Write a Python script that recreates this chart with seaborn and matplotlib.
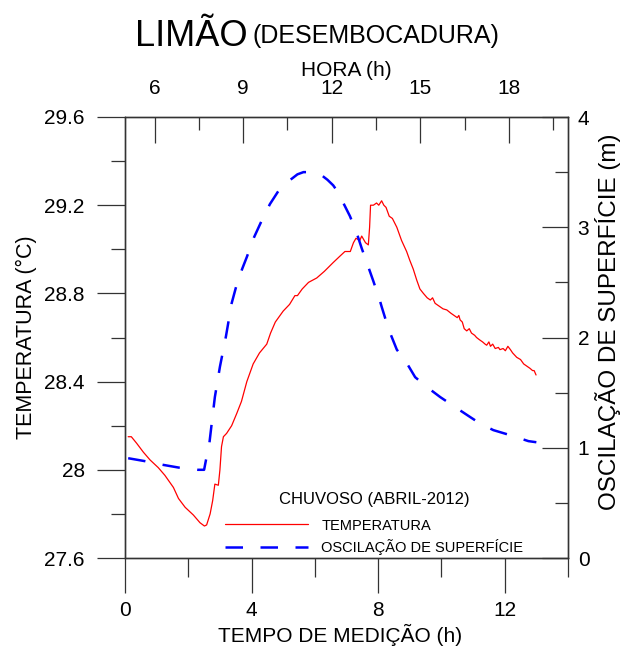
import matplotlib
matplotlib.use("Agg")
import matplotlib.pyplot as plt
import seaborn as sns
from matplotlib.ticker import MultipleLocator, FixedLocator, FormatStrFormatter

# temperatura (tempo de medição em h, °C)
tempo_temp = [0.10, 0.20, 0.37, 0.58, 0.79, 1.05, 1.26, 1.53, 1.69, 1.90,
              2.16, 2.37, 2.51, 2.58, 2.69, 2.77, 2.84, 2.95, 3.00, 3.05,
              3.11, 3.21, 3.37, 3.53, 3.68, 3.85, 4.05, 4.25, 4.48, 4.60,
              4.75, 5.00, 5.20, 5.37, 5.45, 5.60, 5.80, 6.06, 6.30, 6.58,
              6.80, 6.95, 7.12, 7.22, 7.30, 7.42, 7.48, 7.60, 7.69, 7.73,
              7.76, 7.85, 7.95, 8.02, 8.11, 8.18, 8.25, 8.35, 8.45, 8.59,
              8.74, 8.90, 9.00, 9.11, 9.22, 9.32, 9.43, 9.55, 9.65, 9.72,
              9.80, 9.95, 10.05, 10.17, 10.30, 10.40, 10.50, 10.55, 10.59, 10.66,
              10.72, 10.80, 10.88, 10.95, 11.05, 11.11, 11.20, 11.30, 11.38, 11.43,
              11.50, 11.55, 11.62, 11.70, 11.80, 11.85, 11.95, 12.02, 12.10, 12.18,
              12.25, 12.38, 12.50, 12.60, 12.70, 12.80, 12.88, 12.93, 12.99]
temperatura = [28.15, 28.15, 28.12, 28.08, 28.045, 28.01, 27.975, 27.92, 27.87, 27.83,
               27.795, 27.76, 27.745, 27.75, 27.80, 27.86, 27.935, 27.93, 28.00, 28.105,
               28.15, 28.165, 28.20, 28.255, 28.31, 28.40, 28.48, 28.53, 28.57, 28.62,
               28.67, 28.72, 28.75, 28.79, 28.79, 28.82, 28.85, 28.87, 28.90, 28.94,
               28.97, 28.99, 28.99, 29.03, 29.05, 29.04, 29.06, 29.03, 29.02, 29.10,
               29.20, 29.20, 29.21, 29.20, 29.22, 29.20, 29.19, 29.15, 29.14, 29.10,
               29.04, 28.99, 28.95, 28.91, 28.86, 28.82, 28.80, 28.78, 28.77, 28.78,
               28.755, 28.74, 28.73, 28.725, 28.71, 28.70, 28.69, 28.70, 28.68, 28.67,
               28.64, 28.63, 28.64, 28.62, 28.61, 28.60, 28.59, 28.58, 28.57, 28.565,
               28.58, 28.56, 28.57, 28.55, 28.555, 28.545, 28.55, 28.54, 28.56, 28.545,
               28.53, 28.51, 28.50, 28.48, 28.47, 28.46, 28.45, 28.45, 28.43]

# oscilação de superfície (m)
tempo_nivel = [0.10, 0.60, 1.20, 1.70, 2.30, 2.50, 2.56, 2.65, 2.74, 2.84,
               3.00, 3.19, 3.37, 3.53, 3.70, 3.85, 4.08, 4.32, 4.58, 4.85,
               5.05, 5.27, 5.45, 5.64, 5.79, 6.00, 6.22, 6.40, 6.58, 6.75,
               6.90, 7.11, 7.32, 7.48, 7.69, 7.85, 8.06, 8.11, 8.25, 8.38,
               8.59, 8.90, 9.17, 9.59, 9.96, 10.48, 10.90, 11.22, 11.64, 12.22,
               12.75, 13.00]
nivel = [0.905, 0.88, 0.845, 0.82, 0.80, 0.80, 0.89, 1.00, 1.22, 1.46,
         1.735, 2.01, 2.31, 2.48, 2.62, 2.73, 2.91, 3.06, 3.21, 3.33,
         3.40, 3.44, 3.48, 3.50, 3.50, 3.49, 3.47, 3.43, 3.38, 3.31,
         3.22, 3.10, 2.95, 2.81, 2.64, 2.51, 2.33, 2.28, 2.15, 2.04,
         1.89, 1.77, 1.64, 1.54, 1.46, 1.36, 1.28, 1.22, 1.16, 1.11,
         1.06, 1.05]

hora_ticks = [6, 9, 12, 15, 18]

sns.set_style("ticks")
plt.rcParams["font.family"] = ["Liberation Sans", "DejaVu Sans"]
plt.rcParams["text.color"] = "black"
plt.rcParams["axes.labelcolor"] = "black"
plt.rcParams["xtick.labelcolor"] = "black"
plt.rcParams["ytick.labelcolor"] = "black"
spine_col = "#333333"

W, H = 621, 648
fig = plt.figure(figsize=(W / 100, H / 100), dpi=100)
ax = fig.add_axes([125 / W, 1 - 558 / H, 443 / W, 441 / H])
ax2 = ax.twinx()
ax3 = ax.twiny()

sns.lineplot(x=tempo_temp, y=temperatura, ax=ax, color="red", lw=0.9,
             label="TEMPERATURA", legend=False)
sns.lineplot(x=tempo_nivel, y=nivel, ax=ax2, color="blue", lw=1.8,
             label="OSCILAÇÃO DE SUPERFÍCIE", legend=False)
ax2.lines[0].set_dashes([7, 7])

# eixo inferior / esquerdo
ax.set_xlim(0, 14)
ax.set_ylim(27.6, 29.6)
ax.xaxis.set_major_locator(MultipleLocator(4))
ax.xaxis.set_minor_locator(MultipleLocator(2))
ax.yaxis.set_major_locator(MultipleLocator(0.4))
ax.yaxis.set_minor_locator(MultipleLocator(0.2))
ax.yaxis.set_major_formatter(FormatStrFormatter("%g"))
ax.tick_params(axis="y", which="major", direction="out", length=20, pad=9,
               labelsize=15, color=spine_col, width=0.9)
ax.tick_params(axis="y", which="minor", direction="out", length=10,
               color=spine_col, width=0.9)
ax.tick_params(axis="x", which="major", direction="out", length=25, pad=6,
               labelsize=15, color=spine_col, width=0.9)
ax.tick_params(axis="x", which="minor", direction="out", length=14,
               color=spine_col, width=0.9)

# eixo direito
ax2.set_ylim(0, 4)
ax2.yaxis.set_major_locator(MultipleLocator(1))
ax2.yaxis.set_minor_locator(MultipleLocator(0.5))
ax2.tick_params(axis="y", which="major", direction="in", length=18.7, pad=7,
                labelsize=15, color=spine_col, width=0.9)
ax2.tick_params(axis="y", which="minor", direction="in", length=9.4,
                color=spine_col, width=0.9)

# eixo superior (hora)
ax3.set_xlim(5, 20)
ax3.xaxis.set_major_locator(FixedLocator(hora_ticks))
ax3.xaxis.set_minor_locator(MultipleLocator(1.5, offset=1.5))
ax3.tick_params(axis="x", which="major", direction="in", length=18.7, pad=14,
                labelsize=15, color=spine_col, width=0.9)
ax3.tick_params(axis="x", which="minor", direction="in", length=9.4,
                color=spine_col, width=0.9)

for a in (ax, ax2, ax3):
    for s in a.spines.values():
        s.set_color(spine_col)
        s.set_linewidth(0.9)
        s.set_visible(True)

ax.set_xlabel("TEMPO DE MEDIÇÃO (h)", fontsize=15)
ax.xaxis.set_label_coords(0.485, -0.150)
ax.set_ylabel("TEMPERATURA (°C)", fontsize=15.5)
ax.yaxis.set_label_coords(-0.199, 0.5)
ax2.set_ylabel("OSCILAÇÃO DE SUPERFÍCIE (m)", fontsize=17.5)
ax2.yaxis.set_label_coords(1.061, 0.536)
ax3.set_xlabel("HORA (h)", fontsize=15)
ax3.xaxis.set_label_coords(0.499, 1.093)

fig.text(135 / W, 1 - 46 / H, "LIMÃO", fontsize=26, va="baseline", ha="left")
fig.text(253 / W, 1 - 43 / H, "(DESEMBOCADURA)", fontsize=18, va="baseline", ha="left")

handles = [ax.lines[0], ax2.lines[0]]
labels = ["TEMPERATURA", "OSCILAÇÃO DE SUPERFÍCIE"]
leg = ax2.legend(handles, labels, title="CHUVOSO (ABRIL-2012)", frameon=False,
                 loc="lower left", bbox_to_anchor=(222 / W, 1 - 558 / H),
                 bbox_transform=fig.transFigure, fontsize=10.5,
                 title_fontsize=12, handlelength=5.7, handletextpad=0.9,
                 labelspacing=0.45, borderpad=0.2, borderaxespad=0)
leg._legend_box.sep = 8

fig.savefig("out.png", dpi=100)
